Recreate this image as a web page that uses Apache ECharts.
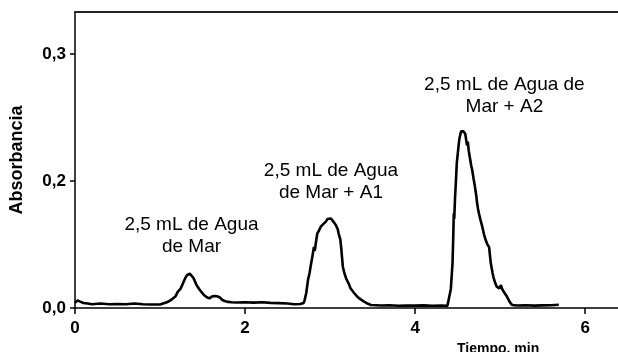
<!DOCTYPE html>
<html>
<head>
<meta charset="utf-8">
<script src="https://cdn.jsdelivr.net/npm/echarts@6/dist/echarts.min.js"></script>
<style>
  html, body { margin: 0; padding: 0; background: #fff; }
  #chart { width: 618px; height: 352px; }
</style>
</head>
<body>
<div id="chart"></div>
<script>
// ====================== datos ======================
var tiempo = [
  0.00, 0.03, 0.06, 0.10, 0.15, 0.20, 0.30, 0.40, 0.50, 0.60, 0.70, 0.80, 0.90, 1.00,
  1.02, 1.08, 1.13, 1.18, 1.21, 1.24, 1.27, 1.30, 1.32, 1.35, 1.37, 1.39, 1.41, 1.43,
  1.45, 1.47, 1.49, 1.52, 1.55, 1.58, 1.61, 1.64, 1.67, 1.70, 1.73, 1.76, 1.80, 1.84,
  1.90, 2.00, 2.10, 2.20, 2.30, 2.40, 2.50, 2.58, 2.65, 2.69,
  2.70, 2.72, 2.74, 2.76, 2.77, 2.79, 2.81, 2.82, 2.83, 2.85, 2.87, 2.89, 2.92, 2.95,
  2.97, 2.99, 3.01, 3.03, 3.05, 3.07, 3.09, 3.10, 3.11, 3.12, 3.13, 3.14, 3.15, 3.17,
  3.19, 3.22, 3.24, 3.28, 3.32, 3.36, 3.40, 3.44, 3.48,
  3.60, 3.70, 3.80, 3.90, 4.00, 4.10, 4.20, 4.30, 4.38,
  4.40, 4.42, 4.44, 4.45, 4.455, 4.46, 4.47, 4.48, 4.49, 4.51, 4.52, 4.54, 4.57, 4.59,
  4.60, 4.61, 4.62, 4.63, 4.64, 4.65, 4.66, 4.67, 4.69, 4.70, 4.72, 4.73, 4.74, 4.75,
  4.77, 4.79, 4.81, 4.83, 4.85, 4.87, 4.89, 4.91, 4.92, 4.94, 4.96, 4.99, 5.01, 5.02,
  5.04, 5.06, 5.08, 5.10, 5.12, 5.14,
  5.20, 5.30, 5.40, 5.50, 5.60, 5.69
];
var absorbancia = [
  0.0040, 0.0060, 0.0050, 0.0040, 0.0035, 0.0030, 0.0035, 0.0030, 0.0032, 0.0030, 0.0035, 0.0030, 0.0028, 0.0027,
  0.0030, 0.0045, 0.0063, 0.0090, 0.0129, 0.0150, 0.0194, 0.0240, 0.0260, 0.0270, 0.0262, 0.0240, 0.0210, 0.0180,
  0.0170, 0.0140, 0.0125, 0.0100, 0.0085, 0.0076, 0.0090, 0.0095, 0.0092, 0.0085, 0.0065, 0.0055, 0.0048, 0.0045,
  0.0043, 0.0045, 0.0042, 0.0045, 0.0040, 0.0038, 0.0035, 0.0030, 0.0032, 0.0040,
  0.0060, 0.0120, 0.0220, 0.0280, 0.0325, 0.0400, 0.0480, 0.0450, 0.0500, 0.0588, 0.0610, 0.0640, 0.0660, 0.0680,
  0.0700, 0.0714, 0.0705, 0.0690, 0.0670, 0.0650, 0.0620, 0.0588, 0.0600, 0.0540, 0.0480, 0.0400, 0.0325, 0.0270,
  0.0230, 0.0190, 0.0155, 0.0120, 0.0089, 0.0068, 0.0050, 0.0035, 0.0024,
  0.0020, 0.0022, 0.0018, 0.0020, 0.0019, 0.0021, 0.0018, 0.0020, 0.0017,
  0.0020, 0.0150, 0.0352, 0.0600, 0.0746, 0.0700, 0.0876, 0.1000, 0.1140, 0.1270, 0.1330, 0.1390, 0.1390, 0.1370,
  0.1360, 0.1280, 0.1310, 0.1240, 0.1200, 0.1190, 0.1120, 0.1090, 0.1008, 0.0970, 0.0880, 0.0820, 0.0780, 0.0746,
  0.0690, 0.0640, 0.0580, 0.0535, 0.0500, 0.0480, 0.0352, 0.0280, 0.0246, 0.0200, 0.0168, 0.0155, 0.0180, 0.0155,
  0.0130, 0.0116, 0.0090, 0.0063, 0.0040, 0.0024,
  0.0020, 0.0022, 0.0019, 0.0021, 0.0022, 0.0025
];

// marcas de los ejes
var xTicks = [0, 2, 4, 6];
var yTicks = [0, 0.1, 0.2];
var yTickLabels = ['0,0', '0,2', '0,3'];

// textos sobre los picos (posicion en unidades de datos)
var notas = [
  { texto: '2,5 mL de Agua\nde Mar', x: 1.37, y: 0.0567 },
  { texto: '2,5 mL de Agua\nde Mar + A1', x: 3.01, y: 0.0992 },
  { texto: '2,5 mL de Agua de\nMar + A2', x: 5.05, y: 0.167 }
];

// ====================== grafico ======================
var puntos = [];
for (var i = 0; i < tiempo.length; i++) {
  puntos.push([tiempo[i], absorbancia[i]]);
}
var puntosNotas = notas.map(function (n) {
  return { name: n.texto, value: [n.x, n.y] };
});

var chart = echarts.init(document.getElementById('chart'), null, { renderer: 'canvas' });
var fuente = 'Liberation Sans, Arial, sans-serif';

var option = {
  backgroundColor: '#fff',
  animation: false,
  title: {
    text: 'Tiempo, min',
    left: 452,
    top: 337,
    textStyle: { fontFamily: fuente, fontSize: 14, fontWeight: 'bold', color: '#000' }
  },
  grid: { left: 73, right: 0, top: 12, bottom: 44 },
  xAxis: [{
    type: 'value',
    min: 0,
    max: 6.386,
    splitLine: { show: false },
    axisLine: { onZero: false, lineStyle: { color: '#000', width: 1.5 } },
    axisTick: { length: 6, customValues: xTicks, lineStyle: { color: '#000', width: 1.5 } },
    axisLabel: {
      customValues: xTicks,
      margin: 12,
      fontFamily: fuente,
      fontSize: 17,
      fontWeight: 'bold',
      color: '#000'
    }
  }, {
    type: 'value',
    position: 'top',
    min: 0,
    max: 6.386,
    splitLine: { show: false },
    axisLine: { onZero: false, lineStyle: { color: '#222', width: 2 } },
    axisTick: { show: false },
    axisLabel: { show: false }
  }],
  yAxis: {
    type: 'value',
    min: 0,
    max: 0.233,
    name: 'Absorbancia',
    nameLocation: 'middle',
    nameGap: 49,
    nameTextStyle: { fontFamily: fuente, fontSize: 18, fontWeight: 'bold', color: '#000' },
    splitLine: { show: false },
    axisLine: { show: true, lineStyle: { color: '#000', width: 1.5 } },
    axisTick: { show: true, length: 5, customValues: yTicks, lineStyle: { color: '#000', width: 1.5 } },
    axisLabel: {
      customValues: yTicks,
      margin: 9,
      fontFamily: fuente,
      fontSize: 17,
      fontWeight: 'bold',
      color: '#000',
      formatter: function (v) {
        for (var k = 0; k < yTicks.length; k++) {
          if (Math.abs(yTicks[k] - v) < 1e-9) return yTickLabels[k];
        }
        return '';
      }
    }
  },
  series: [{
    type: 'line',
    data: puntos,
    showSymbol: false,
    lineStyle: { color: '#000', width: 2.6 },
    z: 3
  }, {
    type: 'scatter',
    data: puntosNotas,
    symbolSize: 0,
    silent: true,
    itemStyle: { opacity: 1 },
    label: {
      show: true,
      position: 'inside',
      formatter: '{b}',
      fontFamily: fuente,
      fontSize: 19,
      lineHeight: 22,
      align: 'center',
      color: '#000',
      opacity: 1,
      textBorderWidth: 0
    }
  }]
};

chart.setOption(option);
</script>
</body>
</html>
